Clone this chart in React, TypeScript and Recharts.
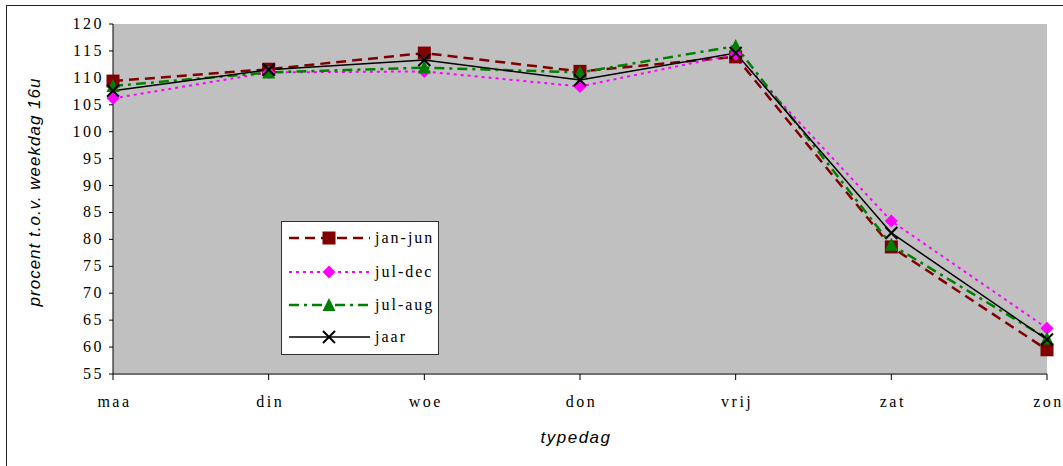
import React from 'react';
import { LineChart, Line, XAxis, YAxis, CartesianGrid, Label } from 'recharts';

const categories = ['maa', 'din', 'woe', 'don', 'vrij', 'zat', 'zon'];
const janJun = [109.4, 111.6, 114.6, 111.2, 113.9, 78.6, 59.5];
const julDec = [106.2, 111.0, 111.2, 108.4, 114.4, 83.4, 63.5];
const julAug = [108.5, 111.0, 111.9, 111.0, 115.9, 79.0, 61.6];
const jaar = [107.6, 111.5, 113.3, 109.6, 114.6, 81.2, 61.4];
const yTicks = [55, 60, 65, 70, 75, 80, 85, 90, 95, 100, 105, 110, 115, 120];

const data = categories.map((c, i) => ({
  cat: c,
  janJun: janJun[i],
  julDec: julDec[i],
  julAug: julAug[i],
  jaar: jaar[i],
}));

const SERIF = 'Liberation Serif, Times New Roman, serif';
const SANS = 'Liberation Sans, Arial, sans-serif';

type MarkerKind = 'square' | 'diamond' | 'triangle' | 'x';

const Marker = ({ kind, cx, cy, color }: { kind: MarkerKind; cx: number; cy: number; color: string }) => {
  const s = 6.5;
  if (kind === 'square') return <rect x={cx - s} y={cy - s} width={2 * s} height={2 * s} fill={color} stroke="none" />;
  if (kind === 'diamond')
    return <polygon points={`${cx},${cy - s} ${cx + s},${cy} ${cx},${cy + s} ${cx - s},${cy}`} fill={color} stroke="none" />;
  if (kind === 'triangle')
    return <polygon points={`${cx},${cy - s - 0.5} ${cx + s},${cy + s - 0.5} ${cx - s},${cy + s - 0.5}`} fill={color} stroke="none" />;
  return (
    <g stroke={color} strokeWidth={2} fill="none">
      <line x1={cx - 6} y1={cy - 6} x2={cx + 6} y2={cy + 6} />
      <line x1={cx - 6} y1={cy + 6} x2={cx + 6} y2={cy - 6} />
    </g>
  );
};

const series = [
  { key: 'janJun', name: 'jan-jun', color: '#800000', dash: '10 6', width: 2.5, marker: 'square' as MarkerKind },
  { key: 'julDec', name: 'jul-dec', color: '#FF00FF', dash: '3 4', width: 2, marker: 'diamond' as MarkerKind },
  { key: 'julAug', name: 'jul-aug', color: '#008000', dash: '10 5 3 5', width: 2.5, marker: 'triangle' as MarkerKind },
  { key: 'jaar', name: 'jaar', color: '#000000', dash: undefined, width: 1.5, marker: 'x' as MarkerKind },
];

const XTick = (props: any) => {
  const { x, y, payload } = props;
  return (
    <text x={x + 1.5} y={y} dy={25} textAnchor="middle" fill="#000" style={{ fontFamily: SERIF, fontSize: 16, letterSpacing: '2.5px' }}>
      {payload.value}
    </text>
  );
};

const YTick = (props: any) => {
  const { x, y, payload } = props;
  return (
    <text x={x - 3} y={y} dy={5} textAnchor="end" fill="#000" style={{ fontFamily: SERIF, fontSize: 16, letterSpacing: '2.5px' }}>
      {payload.value}
    </text>
  );
};

const LegendBox = () => {
  const rows = [17, 51, 84, 116];
  return (
    <div
      style={{
        position: 'absolute',
        left: 281,
        top: 221,
        width: 158,
        height: 134,
        boxSizing: 'border-box',
        border: '1.5px solid #333',
        background: '#fff',
      }}
    >
      <svg width={158} height={134} style={{ position: 'absolute', left: -1.5, top: -1.5 }}>
        {series.map((s, i) => (
          <g key={s.key}>
            <line x1={8} y1={rows[i]} x2={89} y2={rows[i]} stroke={s.color} strokeWidth={s.width} strokeDasharray={s.dash} />
            <Marker kind={s.marker} cx={48} cy={rows[i]} color={s.color} />
            <text x={94} y={rows[i] + 5} fill="#000" style={{ fontFamily: SERIF, fontSize: 16, letterSpacing: '2px' }}>
              {s.name}
            </text>
          </g>
        ))}
      </svg>
    </div>
  );
};

export default function App() {
  return (
    <div style={{ position: 'absolute', left: 0, top: 0, width: 1063, height: 466, overflow: 'hidden', background: '#fff' }}>
      <div
        style={{
          position: 'absolute',
          left: 6,
          top: 5,
          width: 1200,
          height: 600,
          border: '1.5px solid #222',
        }}
      />
      <div style={{ position: 'absolute', left: 0, top: 0 }}>
        <LineChart width={1063} height={466} data={data} margin={{ top: 24, right: 16, bottom: 62, left: 0 }}>
          <CartesianGrid fill="#C0C0C0" stroke="none" horizontal={false} vertical={false} />
          <XAxis
            dataKey="cat"
            height={30}
            axisLine={{ stroke: '#707070', strokeWidth: 2 }}
            tickLine={{ stroke: '#000', strokeWidth: 1 }}
            tickSize={6}
            tick={<XTick />}
            interval={0}
          >
            <Label
              content={() => (
                <text x={576} y={443} textAnchor="middle" fill="#000" style={{ fontFamily: SANS, fontSize: 17, fontStyle: 'italic', letterSpacing: '1.5px' }}>
                  typedag
                </text>
              )}
            />
          </XAxis>
          <YAxis
            width={113}
            domain={[55, 120]}
            ticks={yTicks}
            interval={0}
            axisLine={{ stroke: '#000', strokeWidth: 1 }}
            tickLine={{ stroke: '#000', strokeWidth: 1 }}
            tickSize={4}
            tick={<YTick />}
          >
            <Label
              content={() => (
                <text
                  x={40}
                  y={192}
                  transform="rotate(-90 40 192)"
                  textAnchor="middle"
                  fill="#000"
                  style={{ fontFamily: SANS, fontSize: 17, fontStyle: 'italic', letterSpacing: '1px' }}
                >
                  procent t.o.v. weekdag 16u
                </text>
              )}
            />
          </YAxis>
          {series.map((s) => (
            <Line
              key={s.key}
              type="linear"
              dataKey={s.key}
              name={s.name}
              stroke={s.color}
              strokeWidth={s.width}
              strokeDasharray={s.dash}
              isAnimationActive={false}
              dot={(p: any) => <Marker key={`${s.key}-${p.index}`} kind={s.marker} cx={p.cx} cy={p.cy} color={s.color} />}
              activeDot={false}
            />
          ))}
        </LineChart>
      </div>
      <LegendBox />
    </div>
  );
}
